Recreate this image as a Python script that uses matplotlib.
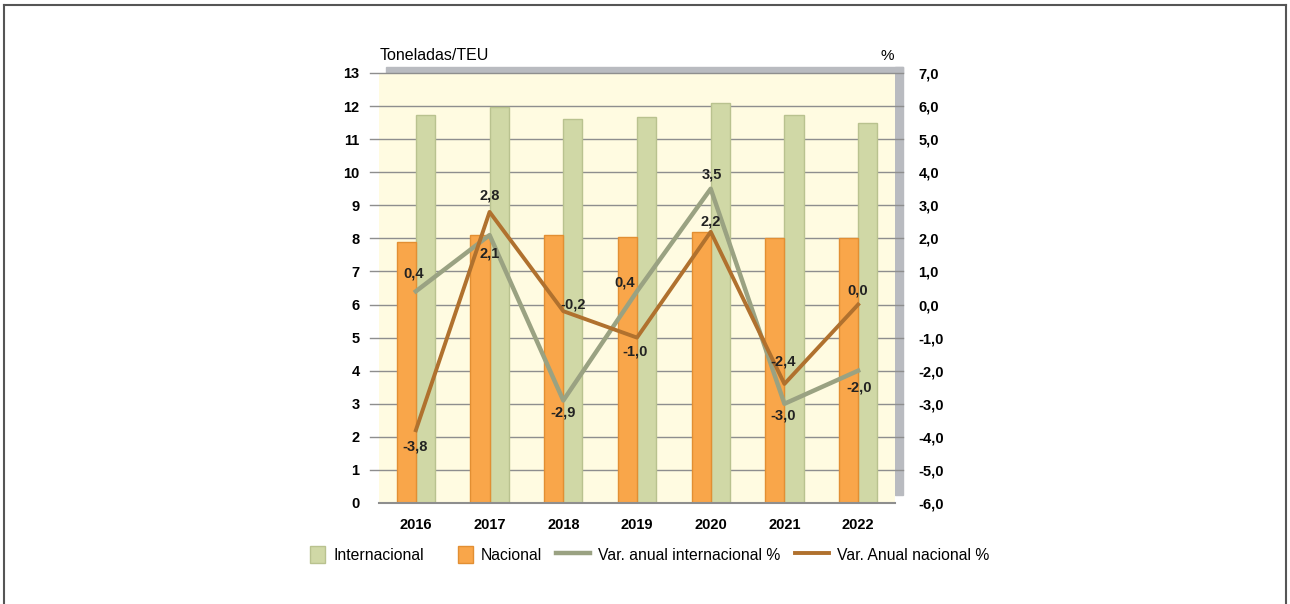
import numpy as np
import matplotlib.pyplot as plt
import matplotlib.patches as mpatches
from matplotlib.lines import Line2D
from matplotlib.legend_handler import HandlerPatch

# ---- data ----
years = ["2016", "2017", "2018", "2019", "2020", "2021", "2022"]
internacional = [11.72, 11.98, 11.62, 11.66, 12.08, 11.72, 11.48]
nacional = [7.90, 8.10, 8.10, 8.03, 8.20, 8.00, 8.00]
var_internacional = [0.4, 2.1, -2.9, 0.4, 3.5, -3.0, -2.0]
var_nacional = [-3.8, 2.8, -0.2, -1.0, 2.2, -2.4, 0.0]

left_ticks = list(range(0, 14))
right_ticks = [v - 6 for v in left_ticks]

# ---- style ----
C_BG = "#FFFBE1"
C_INT = "#D0D8A6"
C_INT_EDGE = "#B9C28F"
C_NAC = "#F9A64A"
C_NAC_EDGE = "#E28F33"
C_LINE_INT = "#9AA282"
C_LINE_NAC = "#B0712E"
C_WALL = "#B9BBC0"
C_GRID = "#8E8E8E"

# label offsets (pixels) for the data labels
off_int = [(-2, 18), (0, -18), (0, -12), (-12, 9), (1, 14), (-1, -12), (1, -17)]
off_nac = [(-1, -16), (0, 16), (10, 7), (-2, -14), (0, 10), (-1, 22), (0, 14)]


class SquareHandler(HandlerPatch):
    # small square swatch, like the original legend
    def create_artists(self, legend, orig_handle, xdescent, ydescent, width, height,
                       fontsize, trans):
        side = height * 1.25
        r = mpatches.Rectangle((width - side * 0.85 - xdescent, -ydescent - (side - height) / 2),
                               side * 0.85, side,
                               facecolor=orig_handle.get_facecolor(),
                               edgecolor=orig_handle.get_edgecolor(), lw=1)
        r.set_transform(trans)
        return [r]


plt.rcParams["font.family"] = ["Liberation Sans Narrow", "Liberation Sans", "DejaVu Sans"]

fig = plt.figure(figsize=(12.9, 6.04), dpi=100)

# outer frame
for xs, ys in [((0.003, 0.997), (0.992, 0.992)), ((0.003, 0.003), (0.0, 0.992)),
               ((0.997, 0.997), (0.0, 0.992))]:
    fig.add_artist(Line2D(xs, ys, color="#555555", lw=1.5, transform=fig.transFigure))

W, H = 1290.0, 604.0
ax = fig.add_axes([379 / W, 1 - 503 / H, 516 / W, 430 / H])

# grey 3D wall
fig.add_artist(mpatches.Rectangle((386 / W, 1 - 73 / H), 517 / W, 6 / H,
                                  transform=fig.transFigure, color=C_WALL, zorder=0))
fig.add_artist(mpatches.Rectangle((895 / W, 1 - 495 / H), 8 / W, 428 / H,
                                  transform=fig.transFigure, color=C_WALL, zorder=0))

ax.set_facecolor(C_BG)
x = np.arange(len(years))
bw = 0.26
ax.bar(x + bw / 2, internacional, bw, color=C_INT, edgecolor=C_INT_EDGE, lw=1, zorder=3,
       label="Internacional")
ax.bar(x - bw / 2, nacional, bw, color=C_NAC, edgecolor=C_NAC_EDGE, lw=1, zorder=3,
       label="Nacional")

ax.set_xlim(-0.5, len(years) - 0.5)
ax.set_ylim(0, 13)
for v in left_ticks[1:]:
    ax.plot([-0.62, len(years) - 0.39], [v, v], color=C_GRID, lw=1, zorder=1, clip_on=False)
ax.plot([-0.5, len(years) - 0.5], [0, 0], color=C_GRID, lw=1.5, zorder=4, clip_on=False)

for s in ax.spines.values():
    s.set_visible(False)
ax.set_yticks(left_ticks)
ax.set_yticklabels([str(v) for v in left_ticks], fontweight="bold", fontsize=10.5)
ax.tick_params(axis="y", length=0, pad=14)
ax.set_xticks(x)
ax.set_xticklabels(years, fontweight="bold", fontsize=10.5)
ax.tick_params(axis="x", length=0, pad=11)

ax2 = ax.twinx()
ax2.set_ylim(-6, 7)
for s in ax2.spines.values():
    s.set_visible(False)
ax2.set_yticks(right_ticks)
ax2.set_yticklabels([f"{v:.1f}".replace(".", ",") for v in right_ticks],
                    fontweight="bold", fontsize=10.5)
ax2.tick_params(axis="y", length=0, pad=17)

ax2.plot(x, var_internacional, color=C_LINE_INT, lw=3.2, zorder=5,
         label="Var. anual internacional %")
ax2.plot(x, var_nacional, color=C_LINE_NAC, lw=2.8, zorder=6,
         label="Var. Anual nacional %")

for xi, v, o in zip(x, var_internacional, off_int):
    ax2.annotate(f"{v:.1f}".replace(".", ","), (xi, v), xytext=o, textcoords="offset pixels",
                 ha="center", va="center", fontsize=10.5, fontweight="bold", color="#222222",
                 zorder=7)
for xi, v, o in zip(x, var_nacional, off_nac):
    ax2.annotate(f"{v:.1f}".replace(".", ","), (xi, v), xytext=o, textcoords="offset pixels",
                 ha="center", va="center", fontsize=10.5, fontweight="bold", color="#222222",
                 zorder=7)

fig.text(380 / W, 1 - 56 / H, "Toneladas/TEU", fontsize=11.5, family="Liberation Sans",
         va="center", ha="left")
fig.text(887 / W, 1 - 56 / H, "%", fontsize=11, family="Liberation Sans",
         va="center", ha="center")

handles = [
    mpatches.Patch(facecolor=C_INT, edgecolor=C_INT_EDGE, label="Internacional"),
    mpatches.Patch(facecolor=C_NAC, edgecolor=C_NAC_EDGE, label="Nacional"),
    Line2D([], [], color=C_LINE_INT, lw=3.2, label="Var. anual internacional %"),
    Line2D([], [], color=C_LINE_NAC, lw=2.8, label="Var. Anual nacional %"),
]
fig.legend(handles=handles, loc="center", bbox_to_anchor=(640 / W, 1 - 555 / H), ncol=4,
           frameon=False, prop={"family": "Liberation Sans", "size": 11.3},
           handlelength=2.2, handleheight=1.0, columnspacing=0.9, handletextpad=0.5,
           handler_map={mpatches.Patch: SquareHandler()})

fig.savefig("out.png", dpi=100)
